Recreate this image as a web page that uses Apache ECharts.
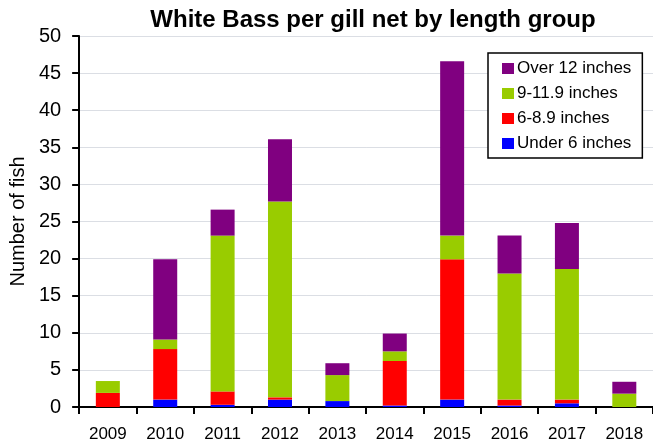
<!DOCTYPE html>
<html><head><meta charset="utf-8">
<script src="https://cdn.jsdelivr.net/npm/echarts@6/dist/echarts.min.js"></script>
<style>html,body{margin:0;padding:0;background:#fff}#c{width:653px;height:445px}</style>
</head><body><div id="c"></div>
<script>
const years = ['2009','2010','2011','2012','2013','2014','2015','2016','2017','2018'];
const under6   = [0,   1.0, 0.3, 1.0, 0.8, 0.2, 1.0, 0.2, 0.5, 0];
const in6to89  = [1.9, 6.8, 1.8, 0.3, 0,   6.0, 18.9,0.8, 0.5, 0];
const in9to119 = [1.6, 1.3, 21.0,26.4,3.5, 1.3, 3.2, 17.0,17.6,1.8];
const over12   = [0,   10.8,3.5, 8.4, 1.6, 2.4, 23.5,5.1, 6.2, 1.6];
const seriesNames = ['Under 6 inches','6-8.9 inches','9-11.9 inches','Over 12 inches'];
const colors = ['#0000FF','#FF0000','#99CC00','#800080'];
const values = [under6, in6to89, in9to119, over12];

const chart = echarts.init(document.getElementById('c'));
const font = 'Liberation Sans, Arial, sans-serif';
chart.setOption({
  animation:false,
  textStyle:{fontFamily:font,color:'#000'},
  title:{text:'White Bass per gill net by length group',left:368,textAlign:'center',top:3,
    textStyle:{fontSize:24,fontWeight:'bold',color:'#000',fontFamily:font}},
  legend:{orient:'vertical',left:488,top:53,data:['Over 12 inches','9-11.9 inches','6-8.9 inches','Under 6 inches'],
    itemWidth:12,itemHeight:11,itemGap:8,padding:[7,11,6,14],borderColor:'#000',borderWidth:1.5,backgroundColor:'#fff',
    icon:'rect',textStyle:{fontSize:17,color:'#000',fontFamily:font,padding:[0,0,0,-2]}},
  grid:{left:78,right:-6,top:36,bottom:38,containLabel:false},
  xAxis:{type:'category',data:years,
    axisLine:{lineStyle:{color:'#000',width:2}},
    axisTick:{show:true,interval:0,length:7,lineStyle:{color:'#000',width:2}},
    axisLabel:{fontSize:17,color:'#000',margin:19,fontFamily:font}},
  yAxis:{type:'value',min:0,max:50,interval:5,name:'Number of fish',nameLocation:'middle',nameGap:47,
    nameTextStyle:{fontSize:20,color:'#000',fontFamily:font},
    axisLine:{show:true,lineStyle:{color:'#000',width:2}},
    axisTick:{show:true,length:7,lineStyle:{color:'#000',width:2}},
    axisLabel:{fontSize:20,color:'#000',margin:18,fontFamily:font}},
  series: values.map((v,i)=>({name:seriesNames[i],type:'bar',stack:'t',data:v,barWidth:24,
    itemStyle:{color:colors[i]}}))
});
</script></body></html>
